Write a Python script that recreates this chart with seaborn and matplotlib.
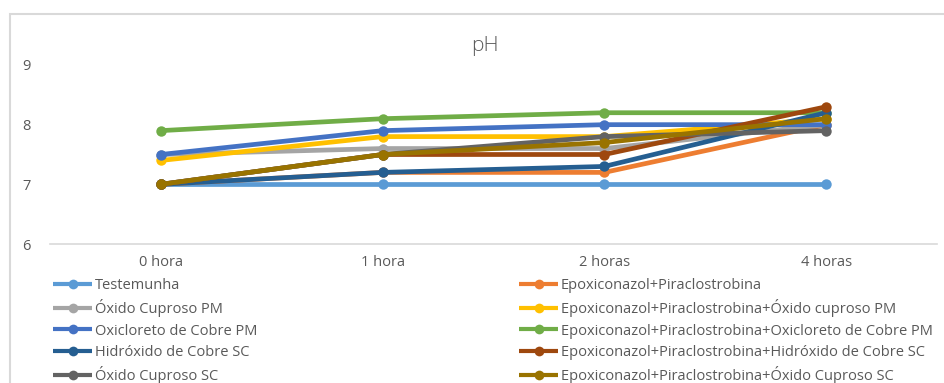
import matplotlib
matplotlib.use('Agg')
import matplotlib.pyplot as plt
import seaborn as sns
import pandas as pd
from matplotlib.patches import Rectangle
from matplotlib.lines import Line2D

# Data
horas = ['0 hora', '1 hora', '2 horas', '4 horas']
tratamentos = [
    'Testemunha',
    'Epoxiconazol+Piraclostrobina',
    'Óxido Cuproso PM',
    'Epoxiconazol+Piraclostrobina+Óxido cuproso PM',
    'Oxicloreto de Cobre PM',
    'Epoxiconazol+Piraclostrobina+Oxicloreto de Cobre PM',
    'Hidróxido de Cobre SC',
    'Epoxiconazol+Piraclostrobina+Hidróxido de Cobre SC',
    'Óxido Cuproso SC',
    'Epoxiconazol+Piraclostrobina+Óxido Cuproso SC',
]
testemunha = [7.0, 7.0, 7.0, 7.0]
epox_pira = [7.0, 7.2, 7.2, 8.0]
oxido_pm = [7.5, 7.6, 7.6, 8.0]
epox_oxido_pm = [7.4, 7.8, 7.8, 8.1]
oxicloreto_pm = [7.5, 7.9, 8.0, 8.0]
epox_oxicloreto_pm = [7.9, 8.1, 8.2, 8.2]
hidroxido_sc = [7.0, 7.2, 7.3, 8.2]
epox_hidroxido_sc = [7.0, 7.5, 7.5, 8.3]
oxido_sc = [7.0, 7.5, 7.8, 7.9]
epox_oxido_sc = [7.0, 7.5, 7.7, 8.1]

valores = [testemunha, epox_pira, oxido_pm, epox_oxido_pm, oxicloreto_pm,
           epox_oxicloreto_pm, hidroxido_sc, epox_hidroxido_sc, oxido_sc, epox_oxido_sc]
cores = ['#5B9BD5', '#ED7D31', '#A5A5A5', '#FFC000', '#4472C4',
         '#70AD47', '#255E91', '#9E480E', '#636363', '#997300']

rows = []
for nome, vals in zip(tratamentos, valores):
    for h, v in zip(horas, vals):
        rows.append({'Hora': h, 'pH': v, 'Tratamento': nome})
df = pd.DataFrame(rows)

sns.set_style('white')
plt.rcParams['font.family'] = ['Open Sans', 'DejaVu Sans']
txt = '#595959'

fig = plt.figure(figsize=(9.44, 3.83), dpi=100)
ax = fig.add_axes([50 / 944, 1 - 244 / 383, 887 / 944, 179 / 383])

sns.lineplot(data=df, x='Hora', y='pH', hue='Tratamento', hue_order=tratamentos,
             palette=cores, marker='o', markersize=7.5, markeredgewidth=0,
             linewidth=3.4, ax=ax, legend=False, sort=False)

ax.set_xlim(-0.5, 3.5)
ax.set_ylim(6, 9)
ax.set_yticks([6, 7, 8, 9])
ax.set_xlabel('')
ax.set_ylabel('')
for s in ['top', 'right', 'left']:
    ax.spines[s].set_visible(False)
ax.spines['bottom'].set_color('#D9D9D9')
ax.spines['bottom'].set_linewidth(1.2)
ax.tick_params(axis='both', length=0, labelsize=10.5, colors=txt)
ax.tick_params(axis='y', pad=14)
ax.tick_params(axis='x', pad=8)

# Chart title
fig.text(485 / 944, 1 - 46 / 383, 'pH', ha='center', va='center',
         fontsize=15, color=txt, fontweight='light')

# Chart frame (extends past the visible area)
fig.patches.append(Rectangle((10 / 944, -0.1), 1.1, 1 - 14 / 383 + 0.1,
                             transform=fig.transFigure, fill=False,
                             edgecolor='#D9D9D9', linewidth=1.5))

# Legend in two columns under the plot
handles = [Line2D([], [], color=c, lw=3, marker='o', markersize=7,
                  markeredgewidth=0, solid_capstyle='butt') for c in cores]
left_idx = [0, 2, 4, 6, 8]
right_idx = [1, 3, 5, 7, 9]
for idx, x0 in [(left_idx, 53 / 944), (right_idx, 519 / 944)]:
    leg = fig.legend([handles[i] for i in idx], [tratamentos[i] for i in idx],
                     loc='upper left', bbox_to_anchor=(x0, 1 - 278 / 383),
                     frameon=False, fontsize=10.5, labelspacing=0.43,
                     handlelength=2.7, handletextpad=0.15, borderpad=0,
                     borderaxespad=0)
    for t in leg.get_texts():
        t.set_color(txt)

fig.savefig('out.png', dpi=100)
